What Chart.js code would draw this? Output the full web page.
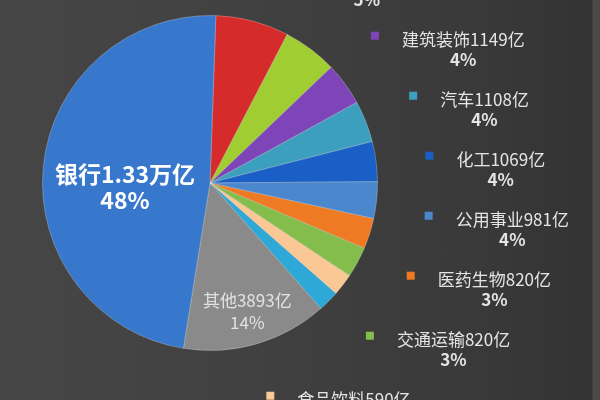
<!DOCTYPE html>
<html>
<head>
<meta charset="utf-8">
<script src="https://cdn.jsdelivr.net/npm/chart.js@4"></script>
<style>
  html, body { margin: 0; padding: 0; }
  body {
    width: 600px; height: 400px; overflow: hidden;
    background: linear-gradient(90deg, #464646 0%, #414141 40%, #393939 80%, #333333 98.6%, #4c4c4c 98.9%, #484848 100%);
  }
  canvas { display: block; }
</style>
</head>
<body>
<canvas id="pie" width="600" height="400"></canvas>
<script>
// net profit by industry, 亿元 (slices in clockwise order from 12 o'clock)
const categories = ['非银金融', '房地产', '建筑装饰', '汽车', '化工', '公用事业', '医药生物', '交通运输', '食品饮料', '采掘', '其他', '银行'];
const profits = [1960, 1450, 1149, 1108, 1069, 981, 820, 820, 590, 560, 3893, 13300];
const shares = ['7%', '5%', '4%', '4%', '4%', '4%', '3%', '3%', '2%', '2%', '14%', '48%'];

const colors = ['#d62b2b', '#a0cd32', '#7e45b8', '#3c9fbe', '#1a5fc6', '#4a87cc',
                '#ef7a24', '#84bd4c', '#f9c894', '#2ea8d6', '#8a8a8a', '#3777cc'];

// labels drawn inside their slice instead of in the side stack
const insideLabels = {
    '其他': { r: 0.8, size: 17, bold: false, color: '#e2e2e2', lift: 11, gap: 22 },
    '银行': { r: 0.51, size: 23, bold: true, color: '#ffffff', lift: 0, gap: 26 }
};

const FONT = '"Noto Sans CJK SC", "Noto Sans", sans-serif';

function amountText(v) {
    return v >= 10000 ? (v / 10000).toFixed(2) + '万亿' : v + '亿';
}

const sliceLabels = {
    id: 'sliceLabels',
    afterDatasetsDraw(chart) {
        const ctx = chart.ctx;
        const arcs = chart.getDatasetMeta(0).data;
        const cx = arcs[0].x, cy = arcs[0].y, R = arcs[0].outerRadius;
        let lastY = -Infinity;

        ctx.save();
        ctx.textBaseline = 'middle';
        arcs.forEach((arc, i) => {
            const mid = (arc.startAngle + arc.endAngle) / 2;
            const text = categories[i] + amountText(profits[i]);
            const spec = insideLabels[categories[i]];

            if (spec) {
                const x = cx + R * spec.r * Math.cos(mid);
                const y = cy + R * spec.r * Math.sin(mid) - spec.lift;
                ctx.font = (spec.bold ? 'bold ' : '') + spec.size + 'px ' + FONT;
                ctx.fillStyle = spec.color;
                ctx.textAlign = 'center';
                ctx.fillText(text, x, y);
                ctx.fillText(shares[i], x, y + spec.gap);
                return;
            }

            // side labels: follow the slice angle, pushed down so they don't overlap
            const y = Math.max(cy + R * 1.65 * Math.sin(mid), lastY + 60);
            lastY = y;
            const dy = y - cy, rr = R * 1.32;
            const x = cx + Math.sqrt(Math.max(rr * rr - dy * dy, 0));

            ctx.fillStyle = colors[i];
            ctx.fillRect(x - 4, y - 4, 8, 8);

            ctx.font = '17px ' + FONT;
            const w = ctx.measureText(text).width;
            const tx = x + 27;
            ctx.fillStyle = '#e4e4e4';
            ctx.textAlign = 'left';
            ctx.fillText(text, tx, y + 4);
            ctx.font = 'bold 17px ' + FONT;
            ctx.textAlign = 'center';
            ctx.fillText(shares[i], tx + w / 2, y + 24);
        });
        ctx.restore();
    }
};

new Chart(document.getElementById('pie'), {
    type: 'pie',
    data: {
        labels: categories,
        datasets: [{
            data: profits,
            backgroundColor: colors,
            borderColor: 'rgba(255, 255, 255, 0.25)',
            borderWidth: 1,
            hoverOffset: 0
        }]
    },
    options: {
        responsive: false,
        animation: false,
        events: [],
        rotation: 2,
        layout: {
            padding: { left: 42, right: 222, top: 15, bottom: 49 }
        },
        plugins: {
            legend: { display: false },
            tooltip: { enabled: false }
        }
    },
    plugins: [sliceLabels]
});
</script>
</body>
</html>
